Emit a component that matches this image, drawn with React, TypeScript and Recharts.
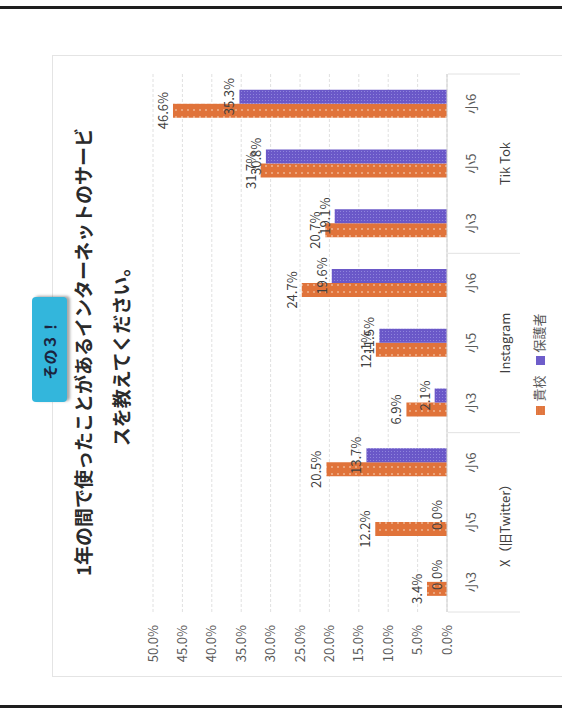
import React from "react";
import {
  BarChart,
  Bar,
  XAxis,
  YAxis,
  CartesianGrid,
  Legend,
  LabelList,
} from "recharts";

const services = ["X（旧Twitter）", "Instagram", "Tik Tok"];
const grades = ["小3", "小5", "小6"];
// 貴校 / 保護者, in the order X 小3..小6, Instagram 小3..小6, TikTok 小3..小6
const schoolValues = [3.4, 12.2, 20.5, 6.9, 12.1, 24.7, 20.7, 31.7, 46.6];
const parentValues = [0.0, 0.0, 13.7, 2.1, 11.5, 19.6, 19.1, 30.8, 35.3];
const valueTicks = [0, 5, 10, 15, 20, 25, 30, 35, 40, 45, 50];
const seriesOrder = ["school", "parent"];

const JP = "'Noto Sans CJK JP', 'Noto Sans', sans-serif";

const rows = schoolValues.map((v, i) => ({
  grade: grades[i % 3],
  service: services[Math.floor(i / 3)],
  school: v,
  parent: parentValues[i],
}));

const pct = (v: number) => `${Number(v).toFixed(1)}%`;

function GradeTick(props: any) {
  const { x, y, payload } = props;
  return (
    <text x={x} y={y} dy="0.71em" textAnchor="middle" fontSize={13} fill="#595959" fontFamily={JP}>
      {payload.value}
    </text>
  );
}

function ServiceTick(props: any) {
  const { x, y, payload, index } = props;
  const half = payload?.offset || 30;
  return (
    <g>
      {index % 3 === 0 && (
        <line x1={x - half} x2={x - half} y1={y - 39} y2={y + 33} stroke="#e2e2e2" />
      )}
      {index === rows.length - 1 && (
        <line x1={x + half} x2={x + half} y1={y - 39} y2={y + 33} stroke="#e2e2e2" />
      )}
      {index % 3 === 1 && (
        <text x={x} y={y + 17} dominantBaseline="central" textAnchor="middle" fontSize={13} fill="#404040" fontFamily={JP}>
          {payload.value}
        </text>
      )}
    </g>
  );
}

// keep zero-value bars in the list so their "0.0%" labels are still drawn
const keepZero = (v: any) => (Number(v) === 0 ? 0.01 : 0);

export default function App() {
  return (
    <div
      style={{
        position: "absolute",
        left: 0,
        top: 0,
        width: 562,
        height: 714,
        overflow: "hidden",
        background: "#fff",
      }}
    >
      <div
        style={{
          position: "absolute",
          left: 0,
          top: 0,
          width: 714,
          height: 562,
          transformOrigin: "0 0",
          transform: "translateY(714px) rotate(-90deg)",
          fontFamily: JP,
        }}
      >
        {/* scan edges */}
        <div style={{ position: "absolute", left: 6, top: 0, width: 3, height: 562, background: "#1e1e1e" }} />
        <div style={{ position: "absolute", left: 705, top: 0, width: 3, height: 562, background: "#1e1e1e" }} />

        {/* chart frame */}
        <div
          style={{
            position: "absolute",
            left: 37,
            top: 52,
            width: 620,
            height: 540,
            border: "1px solid #e4e4e4",
          }}
        />

        <BarChart
          width={714}
          height={562}
          data={rows}
          margin={{ top: 153, right: 74, bottom: 31, left: 32 }}
          barCategoryGap="27%"
          barGap={0}
          style={{ position: "absolute", left: 0, top: 0 }}
        >
          <defs>
            <pattern id="dotOrange" width="7" height="6" patternUnits="userSpaceOnUse">
              <rect width="7" height="6" fill="#E0733A" />
              <circle cx="2" cy="2" r="0.8" fill="#fbe3cf" />
            </pattern>
            <pattern id="dotPurple" width="3" height="3" patternUnits="userSpaceOnUse">
              <rect width="3" height="3" fill="#6A58C8" />
              <rect x="1" y="1" width="1" height="1" fill="#8f84dc" />
            </pattern>
          </defs>
          <CartesianGrid vertical={false} stroke="#e0e0e0" strokeDasharray="3 2" />
          <XAxis
            dataKey="grade"
            height={40}
            tickLine={false}
            tickSize={0}
            tickMargin={20}
            axisLine={{ stroke: "#d0d0d0" }}
            interval={0}
            tick={<GradeTick />}
          />
          <XAxis
            xAxisId="svc"
            dataKey="service"
            height={44}
            tickLine={false}
            tickSize={0}
            tickMargin={0}
            axisLine={false}
            interval={0}
            tick={<ServiceTick />}
          />
          <YAxis
            width={70}
            domain={[0, 50]}
            ticks={valueTicks}
            tickFormatter={pct}
            axisLine={false}
            tickLine={false}
            tickMargin={7}
            tick={{ fontSize: 13, fill: "#595959", fontFamily: JP }}
          />
          <Legend
            layout="horizontal"
            verticalAlign="middle"
            align="center"
            iconType="square"
            iconSize={9}
            itemSorter={(item: any) => seriesOrder.indexOf(item.dataKey)}
            wrapperStyle={{ top: 529, left: 280, width: 150, fontSize: 13, fontFamily: JP }}
            formatter={(value: string) => <span style={{ color: "#595959" }}>{value}</span>}
          />
          <Bar dataKey="school" name="貴校" fill="url(#dotOrange)" minPointSize={keepZero} isAnimationActive={false}>
            <LabelList dataKey="school" position="top" formatter={pct} fontSize={13} fill="#404040" fontFamily={JP} />
          </Bar>
          <Bar dataKey="parent" name="保護者" fill="url(#dotPurple)" minPointSize={keepZero} isAnimationActive={false}>
            <LabelList dataKey="parent" position="top" formatter={pct} fontSize={13} fill="#404040" fontFamily={JP} />
          </Bar>
        </BarChart>

        {/* tag */}
        <div
          style={{
            position: "absolute",
            left: 312,
            top: 32,
            width: 105,
            height: 35,
            background: "#33B6DC",
            borderRadius: 4,
            boxShadow: "1px 3px 3px rgba(0,0,0,0.35)",
            color: "#1b2440",
            fontSize: 15,
            fontWeight: 700,
            lineHeight: "35px",
            textAlign: "center",
          }}
        >
          その３！
        </div>

        {/* title */}
        <div
          style={{
            position: "absolute",
            left: 0,
            top: 64,
            width: 724,
            textAlign: "center",
            fontSize: 19,
            fontWeight: 700,
            lineHeight: "38px",
            color: "#2b2b2b",
          }}
        >
          1年の間で使ったことがあるインターネットのサービ
          <br />
          スを教えてください。
        </div>
      </div>
    </div>
  );
}
